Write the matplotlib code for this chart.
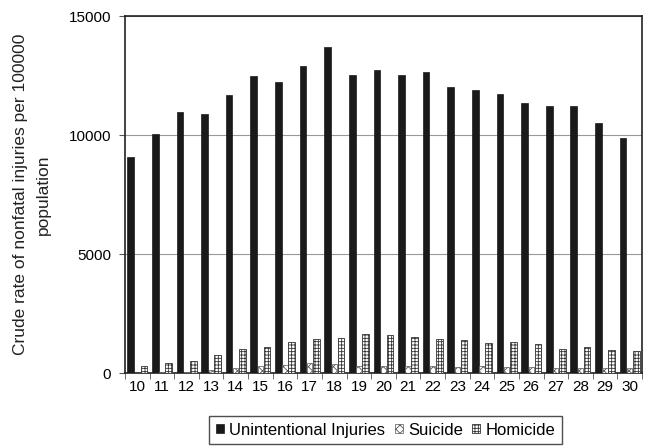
import numpy as np
import matplotlib
matplotlib.use("Agg")
import matplotlib.pyplot as plt

plt.rcParams['font.family'] = ['Liberation Sans', 'DejaVu Sans']
plt.rcParams['hatch.linewidth'] = 0.6

ages = list(range(10, 31))
unintentional = [9100, 10050, 11000, 10900, 11700, 12500, 12250, 12930, 13720, 12540,
                 12750, 12540, 12680, 12020, 11920, 11720, 11380, 11230, 11230, 10500, 9880]
suicide = [20, 30, 60, 110, 230, 300, 350, 400, 360, 300,
           300, 300, 280, 250, 300, 260, 260, 220, 230, 230, 200]
homicide = [300, 400, 520, 750, 1000, 1100, 1300, 1450, 1480, 1620,
            1580, 1500, 1420, 1400, 1250, 1320, 1200, 1020, 1100, 950, 930]

fig = plt.figure(figsize=(6.49, 4.48), dpi=100)
ax = fig.add_axes([125/649, 1 - 373/448, (642-125)/649, (373-16.5)/448])

x = np.arange(len(ages))
w = 0.27
ax.bar(x - w, unintentional, w, color='#1a1a1a', edgecolor='#1a1a1a', lw=0.5,
       label='Unintentional Injuries', zorder=3)
ax.bar(x, suicide, w * 0.8, color='white', edgecolor='#555555', hatch='xxxx', lw=0.5,
       label='Suicide', zorder=3)
ax.bar(x + w, homicide, w, color='white', edgecolor='#333333', hatch='+++++', lw=0.6,
       label='Homicide', zorder=3)

ax.set_xlim(-0.5, len(ages) - 0.5)
ax.set_ylim(0, 15000)
ax.set_yticks([0, 5000, 10000, 15000])
ax.yaxis.grid(True, color='#999999', lw=0.8, zorder=0)
ax.set_xticks(x)
ax.set_xticklabels([str(a) for a in ages])
ax.set_xticks(np.arange(-0.5, len(ages), 1), minor=True)
ax.tick_params(axis='x', which='major', length=0, labelsize=11, pad=5)
ax.tick_params(axis='x', which='minor', length=4, color='#555555')
ax.tick_params(axis='y', length=4, labelsize=11, color='#555555', pad=6)
for s in ax.spines.values():
    s.set_linewidth(1.2)
    s.set_color('#222222')

ax.set_ylabel('Crude rate of nonfatal injuries per 100000\npopulation', fontsize=12.5,
              labelpad=13, color='#222222', linespacing=1.65)

leg = fig.legend(loc='center', bbox_to_anchor=(385.5/649, 1 - 430/448), ncol=3,
                 frameon=True, fancybox=False, edgecolor='#222222', fontsize=12,
                 handlelength=0.5, handleheight=0.5, handletextpad=0.3,
                 columnspacing=0.55, borderpad=0.4)
leg.get_frame().set_linewidth(1.0)

fig.savefig('out.png', dpi=100)
